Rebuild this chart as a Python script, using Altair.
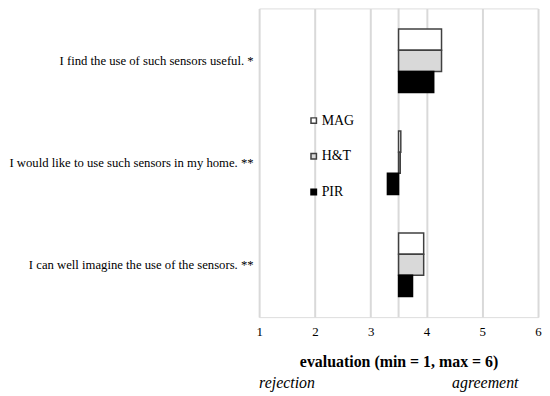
import altair as alt
import pandas as pd

statements = [
    "I find the use of such sensors useful. *",
    "I would like to use such sensors in my home. **",
    "I can well imagine the use of the sensors. **",
]
series = ["MAG", "H&T", "PIR"]
values = {
    "MAG": [4.27, 3.54, 3.95],
    "H&T": [4.27, 3.53, 3.95],
    "PIR": [4.13, 3.30, 3.75],
}
midpoint = 3.5
colors = ["#ffffff", "#d9d9d9", "#000000"]
strokes = ["#404040", "#404040", "#000000"]

rows = []
for s in series:
    for st, v in zip(statements, values[s]):
        rows.append({"statement": st, "series": s, "value": v, "base": midpoint})
df = pd.DataFrame(rows)

FONT = "Liberation Serif"
W, H = 281, 311
xscale = alt.Scale(domain=[1, 6], nice=False, zero=False)

bars = alt.Chart(df).mark_bar(strokeWidth=1.5).encode(
    y=alt.Y("statement:N", sort=statements, title=None,
            scale=alt.Scale(paddingInner=0.377, paddingOuter=0.202),
            axis=alt.Axis(labelFont=FONT, labelFontSize=12.8, labelColor="#000000",
                          labelPadding=6, ticks=False, domain=False, grid=False,
                          labelLimit=400)),
    yOffset=alt.YOffset("series:N", sort=series,
                        scale=alt.Scale(paddingInner=0, paddingOuter=0)),
    x=alt.X("base:Q", scale=xscale,
            title="evaluation (min = 1, max = 6)",
            axis=alt.Axis(values=[1, 2, 3, 4, 5, 6], format="d", labelFlush=False,
                          grid=True, gridColor="#d9d9d9",
                          gridWidth=2, ticks=False, domain=False, labelFont=FONT,
                          labelFontSize=13, labelColor="#000000", labelPadding=9,
                          titleFont=FONT, titleFontSize=16, titleFontWeight="bold",
                          titleColor="#000000", titlePadding=15)),
    x2="value:Q",
    fill=alt.Fill("series:N", sort=series,
                  scale=alt.Scale(domain=series, range=colors),
                  legend=alt.Legend(title=None, orient="none", legendX=48, legendY=106,
                                    symbolType="square", symbolSize=30,
                                    symbolStrokeColor="#000000", symbolStrokeWidth=1.5,
                                    labelFont=FONT, labelFontSize=14, labelColor="#000000",
                                    rowPadding=22, labelOffset=1)),
    stroke=alt.Stroke("series:N", sort=series,
                      scale=alt.Scale(domain=series, range=strokes), legend=None),
)

mid = alt.Chart(pd.DataFrame({"m": [midpoint]})).mark_rule(
    color="#d9d9d9", strokeWidth=2).encode(x=alt.X("m:Q", scale=xscale))

ann = pd.DataFrame({"label": ["rejection", "agreement"], "pos": [1.0, 5.65]})
left_txt = alt.Chart(ann.iloc[[0]]).mark_text(
    font=FONT, fontSize=16, fontStyle="italic", align="left", baseline="middle",
    color="#000000").encode(x=alt.X("pos:Q", scale=xscale), y=alt.value(H + 66),
                            text="label:N")
right_txt = alt.Chart(ann.iloc[[1]]).mark_text(
    font=FONT, fontSize=16, fontStyle="italic", align="right", baseline="middle",
    color="#000000").encode(x=alt.X("pos:Q", scale=xscale), y=alt.value(H + 66),
                            text="label:N")

chart = alt.layer(mid, bars, left_txt, right_txt).properties(
    width=W, height=H, padding={"left": 0, "top": -2, "right": 0, "bottom": 0}
).configure_view(stroke=None).configure_axis(domain=False).configure(background="#ffffff")

chart.save("out.html", embed_options={"renderer": "svg", "actions": False})
